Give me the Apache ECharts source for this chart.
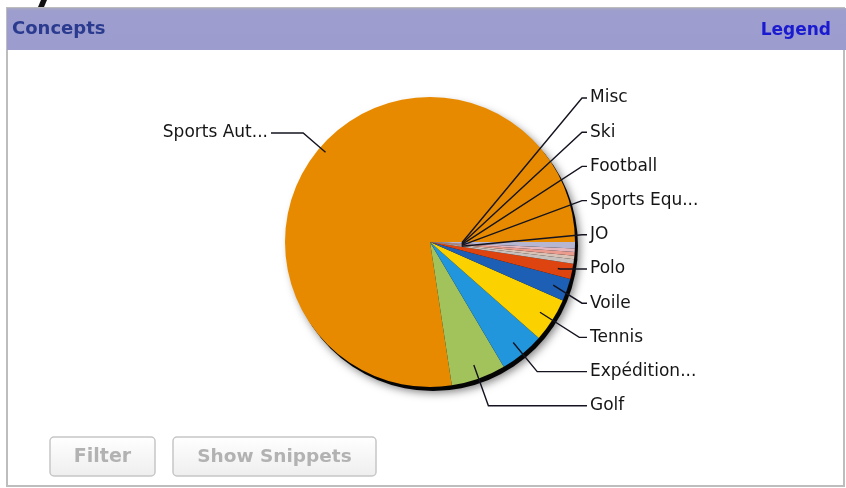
<!DOCTYPE html>
<html>
<head>
<meta charset="utf-8">
<script src="https://cdn.jsdelivr.net/npm/echarts@6/dist/echarts.min.js"></script>
<style>
  html, body { margin: 0; padding: 0; background: #ffffff; }
  #chart { width: 846px; height: 488px; }
</style>
</head>
<body>
<div id="chart"></div>
<script>
// Concept share of matched documents
const categories = ['Sports Aut...', 'Golf', 'Expédition...', 'Tennis', 'Voile', 'Polo', 'JO', 'Sports Equ...', 'Football', 'Ski', 'Misc'];
const values = [774, 61, 50, 49, 25, 17, 5, 4, 4, 4, 7];
const sliceColors = ['#e88a00', '#a2c35c', '#2196dd', '#fbd200', '#1d5fb5', '#de4410', '#c8c0bc', '#d9c3b6', '#eb9c8e', '#e4b6bf', '#b6b6d2'];
const panelTitle = 'Concepts';
const legendLink = 'Legend';
const buttonLabels = ['Filter', 'Show Snippets'];

const W = 846, H = 488;
const CX = 430, CY = 242, R = 145;
const START = 0;
const FONT = '"DejaVu Sans", Verdana, sans-serif';

const total = values.reduce((a, b) => a + b, 0);
const midAngles = [];
(function () {
  let acc = 0;
  values.forEach(v => {
    midAngles.push((START + (acc + v / 2) / total * 360) * Math.PI / 180);
    acc += v;
  });
})();

// callout geometry: the big slice goes left, the rest stack in a column on the right
function callout(i) {
  const a = midAngles[i];
  const c = Math.cos(a), s = -Math.sin(a);
  const span = values[i] / total * 360;
  if (i === 0) {
    const ly = CY - 109;
    const rs = R * 0.95;
    const sx = CX + c * rs, sy = CY + s * rs;
    const ex = sx + c * (ly - sy) / s;
    const rx = CX - R - 17;
    return { x: rx, y: ly, align: 'right', pts: [[sx, sy], [ex, ly], [rx + 3, ly]] };
  }
  const rank = values.length - 1 - i;
  const ly = CY - 144 + rank * 34.2;
  const lx = CX + 160;
  const rs = span < 4 ? R * 0.22 : R * 0.9;
  const sx = CX + c * rs, sy = CY + s * rs;
  let ex = lx - 8;
  const dy = ly - sy;
  if (Math.abs(s) > 1e-6 && dy / s > 0) {
    ex = Math.min(lx - 8, Math.max(sx, sx + c * dy / s));
  }
  return { x: lx, y: ly, align: 'left', pts: [[sx, sy], [ex, ly], [lx - 3, ly]] };
}

function layoutLabel(p) {
  const g = callout(p.dataIndex);
  return { x: g.x, y: g.y, align: g.align, verticalAlign: 'middle' };
}

const leaderLines = values.map((v, i) => ({
  type: 'polyline', z: 50, silent: true,
  shape: { points: callout(i).pts },
  style: { stroke: '#141420', lineWidth: 1.4, fill: null }
}));

function button(x, y, w, h, text, size) {
  return {
    type: 'group', x: x, y: y, silent: true,
    children: [
      { type: 'rect', shape: { x: 0, y: 0, width: w, height: h, r: 4 },
        style: { fill: new echarts.graphic.LinearGradient(0, 0, 0, 1, [
          { offset: 0, color: '#ffffff' }, { offset: 1, color: '#eeeeee' }]),
          stroke: '#c6c6c6', lineWidth: 1.5 } },
      { type: 'text', x: w / 2, y: h / 2 + 1,
        style: { text: text, fill: '#b2b2b2', font: 'bold ' + size + 'px ' + FONT,
          align: 'center', verticalAlign: 'middle' } }
    ]
  };
}

const chart = echarts.init(document.getElementById('chart'), null, { renderer: 'canvas', width: W, height: H });

chart.setOption({
  animation: false,
  backgroundColor: '#ffffff',
  graphic: [
    // panel frame
    { type: 'rect', z: -10, silent: true, shape: { x: 7, y: 8, width: W - 9, height: H - 10 },
      style: { fill: '#ffffff', stroke: '#bdbdbd', lineWidth: 2 } },
    // header band
    { type: 'rect', z: -5, silent: true, shape: { x: 7, y: 8, width: W - 7, height: 42 },
      style: { fill: new echarts.graphic.LinearGradient(0, 0, 0, 1, [
        { offset: 0, color: '#a8a8c4' }, { offset: 0.08, color: '#9d9dce' }, { offset: 1, color: '#9c9ccf' }]) } },
    { type: 'text', silent: true, x: 12, y: 29,
      style: { text: panelTitle, fill: '#2a3b8f', font: 'bold 18px ' + FONT, verticalAlign: 'middle' } },
    { type: 'text', silent: true, x: 831, y: 31,
      style: { text: legendLink, fill: '#1a1ad0', font: 'bold 17px ' + FONT, align: 'right', verticalAlign: 'middle' } },
    // tail of the page heading above the panel
    { type: 'polygon', silent: true, shape: { points: [[41, 0], [47, 0], [44, 7], [38, 7]] },
      style: { fill: '#111111' } },
    button(50, 437, 105, 39, buttonLabels[0], 19),
    button(173, 437, 203, 39, buttonLabels[1], 18.5)
  ].concat(leaderLines),
  series: [
    {
      // drop shadow disc behind the pie
      type: 'pie', silent: true, z: 1,
      center: [CX + 3, CY + 4], radius: R,
      label: { show: false }, labelLine: { show: false },
      itemStyle: { color: '#050505', shadowBlur: 8, shadowColor: 'rgba(0,0,0,0.5)', shadowOffsetX: 2, shadowOffsetY: 2 },
      data: [{ value: total, name: '' }]
    },
    {
      type: 'pie', z: 2,
      center: [CX, CY], radius: R,
      startAngle: START, clockwise: false,
      avoidLabelOverlap: false,
      color: sliceColors,
      itemStyle: { borderWidth: 0 },
      label: { show: true, position: 'outside', color: '#151515', fontSize: 17, fontFamily: FONT },
      labelLine: { show: false },
      labelLayout: layoutLabel,
      emphasis: { disabled: true },
      data: categories.map((n, i) => ({ name: n, value: values[i] }))
    }
  ]
});
</script>
</body>
</html>
